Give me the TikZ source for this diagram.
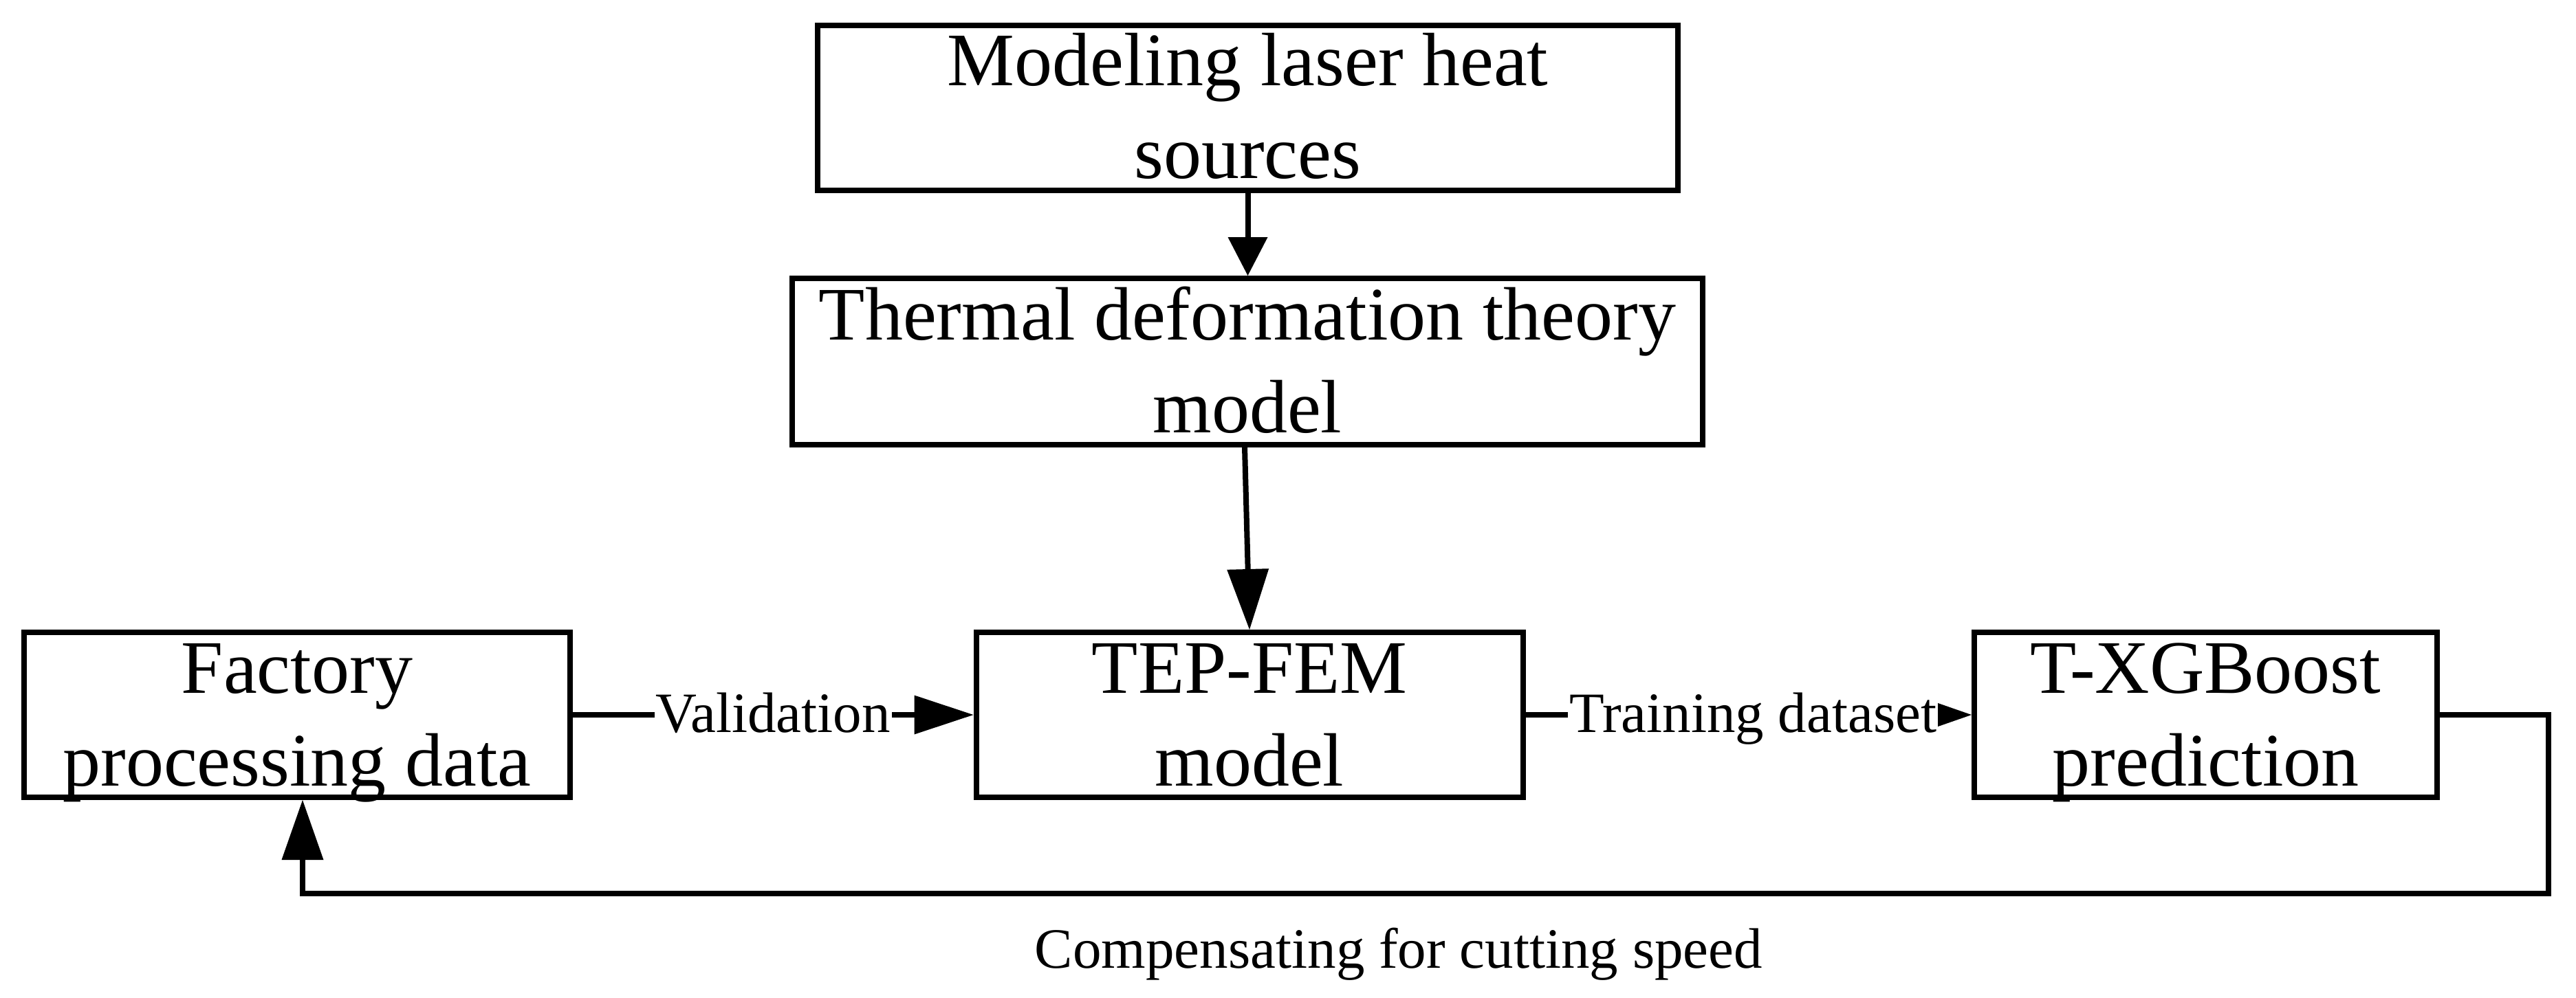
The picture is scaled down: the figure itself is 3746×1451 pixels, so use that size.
\documentclass[tikz,border=0pt]{standalone}
\usepackage{fontspec}
\setmainfont{Liberation Serif}
\usetikzlibrary{arrows.meta}
\newcommand\boxlines[2]{\smash{#1}\rule{0pt}{71pt}\\\smash{#2}}
\begin{document}
\begin{tikzpicture}[x=1pt,y=-1pt,
  box/.style={draw, line width=8pt, inner sep=0pt, align=center, minimum height=240pt,
              font=\fontsize{110}{135}\selectfont},
  lab/.style={fill=white, inner xsep=2pt, inner ysep=0pt, font=\fontsize{83}{96}\selectfont},
  conn/.style={line width=8pt},
]
\useasboundingbox (0,0) rectangle (3746,1451);

\node[box, minimum width=1251pt] (heat) at (1814.5,156.5) {\boxlines{Modeling laser heat}{sources}};
\node[box, minimum width=1324pt, minimum height=242pt] (theory) at (1814,526) {\boxlines{Thermal deformation theory}{model}};
\node[box, minimum width=794pt] (factory) at (432,1040) {\boxlines{Factory}{processing data}};
\node[box, minimum width=795pt] (tep) at (1817,1040) {\boxlines{TEP-FEM}{model}};
\node[box, minimum width=673pt] (txg) at (3207.5,1040) {\boxlines{T-XGBoost}{prediction}};

\coordinate (fbR) at (3706,1300);
\coordinate (fbL) at (440,1300);

\draw[conn, -{Triangle[length=56pt,width=58pt,line width=0pt]}]
  (heat.south) -- (heat.south |- theory.north);
\draw[conn, -{Triangle[length=88pt,width=61pt,line width=0pt]}]
  ([xshift=-4pt]theory.south) -- (tep.north);
\draw[conn, -{Triangle[length=86pt,width=57pt,line width=0pt]}]
  (factory.east) -- node[lab, anchor=base, yshift=-25pt] (val) {Validation} (tep.west);
\draw[conn, -{Triangle[length=56pt,width=39pt,line width=0pt]}]
  (tep.east) -- node[lab, pos=0.51, anchor=base, yshift=-25pt] (train) {Training dataset} (txg.west);
\draw[conn, -{Triangle[length=87pt,width=61pt,line width=0pt]}]
  (txg.east) -| (fbR) -- (fbL) -- (fbL |- factory.south);

\node[font=\fontsize{83}{96}\selectfont, anchor=base, inner sep=0pt] (comp) at (2034,1408)
  {Compensating for cutting speed};
\end{tikzpicture}
\end{document}
